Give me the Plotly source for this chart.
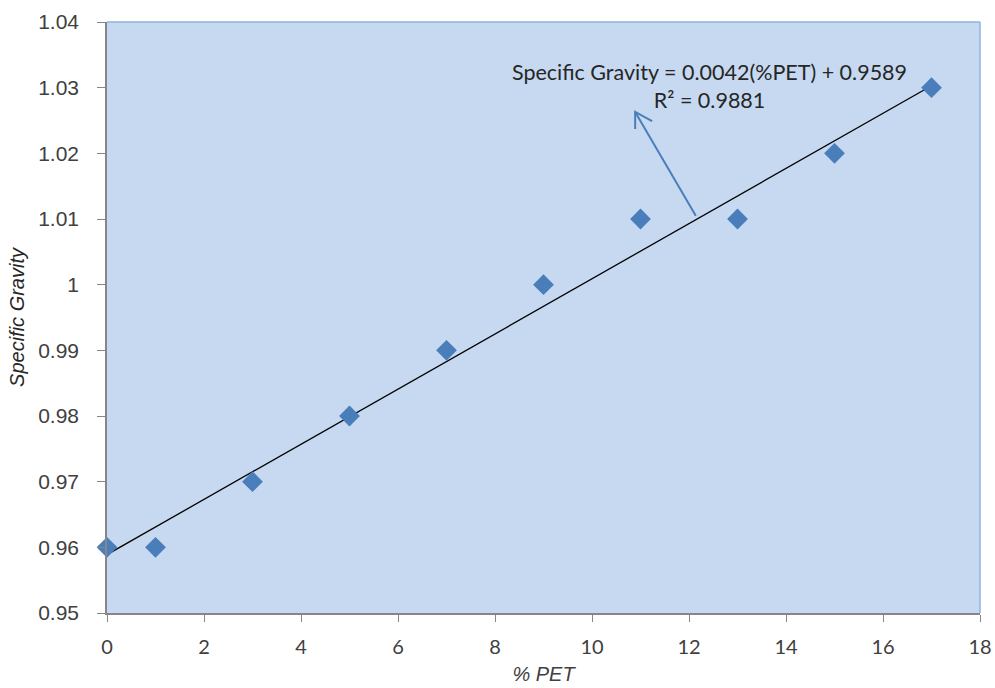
import plotly.graph_objects as go

# Data
pet_percent = [0, 1, 3, 5, 7, 9, 11, 13, 15, 17]
specific_gravity = [0.96, 0.96, 0.97, 0.98, 0.99, 1.00, 1.01, 1.01, 1.02, 1.03]
trend_slope = 0.0042
trend_intercept = 0.9589
r_squared = 0.9881
x_ticks = [0, 2, 4, 6, 8, 10, 12, 14, 16, 18]
y_ticks = [0.95, 0.96, 0.97, 0.98, 0.99, 1.00, 1.01, 1.02, 1.03, 1.04]
y_tick_labels = ["0.95", "0.96", "0.97", "0.98", "0.99", "1", "1.01", "1.02", "1.03", "1.04"]

trend_x = [min(pet_percent), max(pet_percent)]
trend_y = [trend_slope * v + trend_intercept for v in trend_x]

fig = go.Figure()
fig.add_trace(go.Scatter(x=trend_x, y=trend_y, mode="lines",
                         line=dict(color="black", width=1.3), showlegend=False,
                         hoverinfo="skip"))
fig.add_trace(go.Scatter(x=pet_percent, y=specific_gravity, mode="markers",
                         marker=dict(symbol="diamond", size=16, color="#4a7ebb",
                                     line=dict(width=0)),
                         showlegend=False, cliponaxis=False))

label_font = dict(family="Liberation Sans", size=21, color="#404040")
calibri_like = dict(family="Lato", size=20, color="#404040")

fig.update_layout(
    width=995, height=688,
    margin=dict(l=107, r=15, t=22, b=75),
    paper_bgcolor="white",
    plot_bgcolor="#c6d9f1",
    xaxis=dict(range=[0, 18], tickvals=x_ticks, showgrid=False, zeroline=False,
               automargin=False, ticklabeloverflow="allow",
               showline=True, linecolor="#868686", linewidth=1.5,
               ticks="outside", ticklen=7, tickcolor="#868686",
               tickfont=calibri_like, ticklabelstandoff=8,
               title=dict(text="% PET", font=dict(family="Liberation Sans", size=20,
                                                   color="#404040", style="italic"),
                          standoff=10)),
    yaxis=dict(range=[0.95, 1.04], tickvals=y_ticks, ticktext=y_tick_labels,
               showgrid=False, zeroline=False, automargin=False,
               showline=True, linecolor="#868686", linewidth=1.5,
               ticks="outside", ticklen=8, tickcolor="#868686",
               tickfont=label_font, ticklabelstandoff=14,
               title=dict(text="Specific Gravity",
                          font=dict(family="Liberation Sans", size=20,
                                    color="#262626", style="italic"),
                          standoff=8)),
)

# plot-area border (top and right, blue)
fig.add_shape(type="line", xref="paper", yref="paper", x0=0, x1=1, y0=1, y1=1,
              line=dict(color="#8db3e2", width=1.5))
fig.add_shape(type="line", xref="paper", yref="paper", x0=1, x1=1, y0=0, y1=1,
              line=dict(color="#8db3e2", width=1.5))

# equation annotation
fig.add_annotation(x=12.43, y=1.0302, xref="x", yref="y", showarrow=False,
                   text=f"Specific Gravity = {trend_slope}(%PET) + {trend_intercept}<br>R² = {r_squared}",
                   align="center", font=dict(family="Lato", size=21.5, color="#262626"))

# arrow (open head)
tail = (12.14, 1.0105)
head = (10.89, 1.0263)
arm1 = (10.89, 1.0237)
arm2 = (11.24, 1.0249)
fig.add_shape(type="line", xref="x", yref="y", x0=tail[0], y0=tail[1], x1=head[0], y1=head[1],
              line=dict(color="#4a7ebb", width=2))
fig.add_shape(type="path", xref="x", yref="y",
              path=f"M {arm1[0]},{arm1[1]} L {head[0]},{head[1]} L {arm2[0]},{arm2[1]}",
              line=dict(color="#4a7ebb", width=2))

fig.write_html("out.html", config={"displayModeBar": False},
               post_script="document.body.style.margin='0';document.body.style.overflow='hidden';")
